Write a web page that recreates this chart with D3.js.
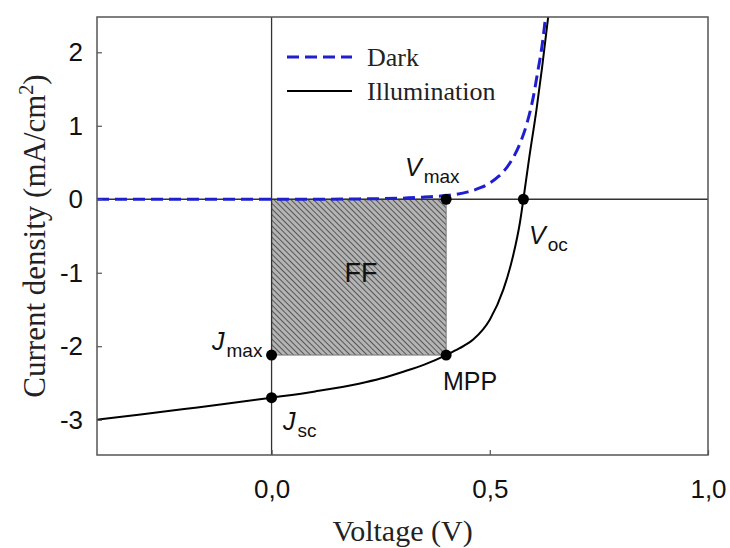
<!DOCTYPE html>
<html lang="en">
	<head>
		<meta charset="utf-8">
		<title>J-V curve</title>
		<script type="text/javascript" src="https://cdn.jsdelivr.net/npm/d3@7"></script>
		<style type="text/css">
			html, body {
				margin: 0;
				padding: 0;
				background-color: white;
			}
			.tick text {
				font-family: "Liberation Sans", Arial, sans-serif;
				font-size: 26px;
				fill: #111;
			}
			.tick line {
				stroke: #555;
				stroke-width: 1.2;
			}
		</style>
	</head>
	<body>
		<script type="text/javascript">

			// curve readings (V in volts, J in mA/cm2)
			var darkV = [-0.40, -0.30, -0.20, -0.10, 0.00, 0.10, 0.20, 0.30, 0.35, 0.40, 0.45, 0.48, 0.50, 0.52, 0.54, 0.555, 0.57, 0.585, 0.60, 0.61, 0.62, 0.628];
			var darkJ = [0.00, 0.00, 0.00, 0.00, 0.00, 0.00, 0.005, 0.015, 0.03, 0.05, 0.10, 0.16, 0.22, 0.31, 0.44, 0.58, 0.77, 1.03, 1.40, 1.74, 2.10, 2.49];

			var illumV = [-0.40, -0.30, -0.20, -0.10, 0.00, 0.10, 0.20, 0.25, 0.30, 0.35, 0.40, 0.43, 0.462, 0.50, 0.531, 0.553, 0.569, 0.577, 0.59, 0.607, 0.62, 0.634];
			var illumJ = [-3.00, -2.93, -2.855, -2.78, -2.70, -2.615, -2.51, -2.44, -2.35, -2.25, -2.12, -2.03, -1.91, -1.64, -1.23, -0.78, -0.32, 0.00, 0.55, 1.22, 1.80, 2.49];

			// marked points: Jmax, Jsc, MPP, Vmax, Voc
			var markV = [0.00, 0.00, 0.40, 0.40, 0.577];
			var markJ = [-2.12, -2.70, -2.12, 0.00, 0.00];

			var xTicks = [0.0, 0.5, 1.0];
			var yTicks = [-3, -2, -1, 0, 1, 2];

			var w = 730;
			var h = 548;
			var plotL = 97, plotR = 708, plotT = 17, plotB = 455;

			var svg = d3.select("body")
						.append("svg")
						.attr("width", w)
						.attr("height", h);

			var xScale = d3.scaleLinear()
							.domain([-0.4, 1.0])
							.range([plotL, plotR]);

			var yScale = d3.scaleLinear()
							.domain([-3.48, 2.48])
							.range([plotB, plotT]);

			// hatch for the FF box
			var defs = svg.append("defs");
			var pat = defs.append("pattern")
						.attr("id", "hatch")
						.attr("patternUnits", "userSpaceOnUse")
						.attr("width", 4)
						.attr("height", 4)
						.attr("patternTransform", "rotate(-45)");
			pat.append("rect")
				.attr("width", 4)
				.attr("height", 4)
				.attr("fill", "#b4b4b4");
			pat.append("line")
				.attr("x1", 0).attr("y1", 0)
				.attr("x2", 0).attr("y2", 4)
				.attr("stroke", "#3c3c3c")
				.attr("stroke-width", 1.6);

			defs.append("clipPath")
				.attr("id", "plotclip")
				.append("rect")
				.attr("x", plotL)
				.attr("y", plotT)
				.attr("width", plotR - plotL)
				.attr("height", plotB - plotT);

			//FF rectangle
			svg.append("rect")
				.attr("x", xScale(0))
				.attr("y", yScale(0))
				.attr("width", xScale(markV[2]) - xScale(0))
				.attr("height", yScale(markJ[2]) - yScale(0))
				.attr("fill", "url(#hatch)")
				.attr("stroke", "#777")
				.attr("stroke-width", 1);

			// zero lines
			svg.append("line")
				.attr("x1", plotL).attr("x2", plotR)
				.attr("y1", yScale(0)).attr("y2", yScale(0))
				.attr("stroke", "#333")
				.attr("stroke-width", 1.3);
			svg.append("line")
				.attr("x1", xScale(0)).attr("x2", xScale(0))
				.attr("y1", plotT).attr("y2", plotB)
				.attr("stroke", "#333")
				.attr("stroke-width", 1.3);

			var line = d3.line()
						.x(function(d) { return xScale(d[0]); })
						.y(function(d) { return yScale(d[1]); })
						.curve(d3.curveMonotoneX);

			var plot = svg.append("g").attr("clip-path", "url(#plotclip)");

			plot.append("path")
				.datum(illumV.map(function(v, i) { return [v, illumJ[i]]; }))
				.attr("d", line)
				.attr("fill", "none")
				.attr("stroke", "black")
				.attr("stroke-width", 2);

			plot.append("path")
				.datum(darkV.map(function(v, i) { return [v, darkJ[i]]; }))
				.attr("d", line)
				.attr("fill", "none")
				.attr("stroke", "#1f1fd2")
				.attr("stroke-width", 3)
				.attr("stroke-dasharray", "12,6");

			svg.selectAll("circle.mark")
				.data(markV)
				.enter()
				.append("circle")
				.attr("class", "mark")
				.attr("cx", function(d) { return xScale(d); })
				.attr("cy", function(d, i) { return yScale(markJ[i]); })
				.attr("r", 5.5)
				.attr("fill", "black");

			//axes with inward ticks
			var yAxis = d3.axisLeft(yScale)
							.tickValues(yTicks)
							.tickFormat(function(d) { return String(d); })
							.tickSizeInner(-5)
							.tickSizeOuter(0)
							.tickPadding(14);

			var xAxis = d3.axisBottom(xScale)
							.tickValues(xTicks)
							.tickFormat(function(d) { return d3.format(".1f")(d).replace(".", ","); })
							.tickSizeInner(-5)
							.tickSizeOuter(0)
							.tickPadding(25);

			svg.append("g")
				.attr("transform", "translate(" + plotL + ",0)")
				.call(yAxis)
				.call(function(g) { g.select(".domain").remove(); });

			svg.append("g")
				.attr("transform", "translate(0," + plotB + ")")
				.call(xAxis)
				.call(function(g) { g.select(".domain").remove(); });

			// frame
			svg.append("rect")
				.attr("x", plotL)
				.attr("y", plotT)
				.attr("width", plotR - plotL)
				.attr("height", plotB - plotT)
				.attr("fill", "none")
				.attr("stroke", "#555")
				.attr("stroke-width", 1.5);

			// axis titles
			svg.append("text")
				.attr("x", (plotL + plotR) / 2)
				.attr("y", 541)
				.attr("text-anchor", "middle")
				.attr("font-family", "'Liberation Serif', 'Times New Roman', serif")
				.attr("font-size", 30)
				.attr("fill", "#222")
				.text("Voltage (V)");

			var yTitle = svg.append("text")
				.attr("transform", "translate(45," + ((plotT + plotB) / 2) + ") rotate(-90)")
				.attr("text-anchor", "middle")
				.attr("font-family", "'Liberation Serif', 'Times New Roman', serif")
				.attr("font-size", 31)
				.attr("fill", "#222");
			yTitle.append("tspan").text("Current density (mA/cm");
			yTitle.append("tspan").attr("font-size", 20).attr("dy", -12).text("2");
			yTitle.append("tspan").attr("dy", 12).text(")");

			// legend
			var legFont = "'Liberation Serif', 'Times New Roman', serif";
			svg.append("line")
				.attr("x1", 287).attr("x2", 352)
				.attr("y1", 57).attr("y2", 57)
				.attr("stroke", "#1f1fd2")
				.attr("stroke-width", 3)
				.attr("stroke-dasharray", "12,6");
			svg.append("text")
				.attr("x", 367).attr("y", 66)
				.attr("font-family", legFont)
				.attr("font-size", 26)
				.attr("fill", "#222")
				.text("Dark");
			svg.append("line")
				.attr("x1", 287).attr("x2", 352)
				.attr("y1", 91).attr("y2", 91)
				.attr("stroke", "black")
				.attr("stroke-width", 2);
			svg.append("text")
				.attr("x", 367).attr("y", 100)
				.attr("font-family", legFont)
				.attr("font-size", 26)
				.attr("fill", "#222")
				.text("Illumination");

			// point labels
			var annFont = "'Liberation Sans', Arial, sans-serif";
			function subLabel(x, y, main, sub) {
				var t = svg.append("text")
							.attr("x", x)
							.attr("y", y)
							.attr("font-family", annFont)
							.attr("font-size", 25)
							.attr("fill", "#111");
				t.append("tspan").attr("font-style", "italic").text(main);
				t.append("tspan").attr("font-size", 19).attr("dx", 2).attr("dy", 7).text(sub);
			}
			subLabel(212, 350, "J", "max");
			subLabel(283, 430, "J", "sc");
			subLabel(405, 176, "V", "max");
			subLabel(529, 244, "V", "oc");

			svg.append("text")
				.attr("x", 443).attr("y", 390)
				.attr("font-family", annFont)
				.attr("font-size", 25)
				.attr("fill", "#111")
				.text("MPP");

			svg.append("text")
				.attr("x", 361).attr("y", 282)
				.attr("text-anchor", "middle")
				.attr("font-family", annFont)
				.attr("font-size", 27)
				.attr("fill", "#111")
				.text("FF");

		</script>
	</body>
</html>
